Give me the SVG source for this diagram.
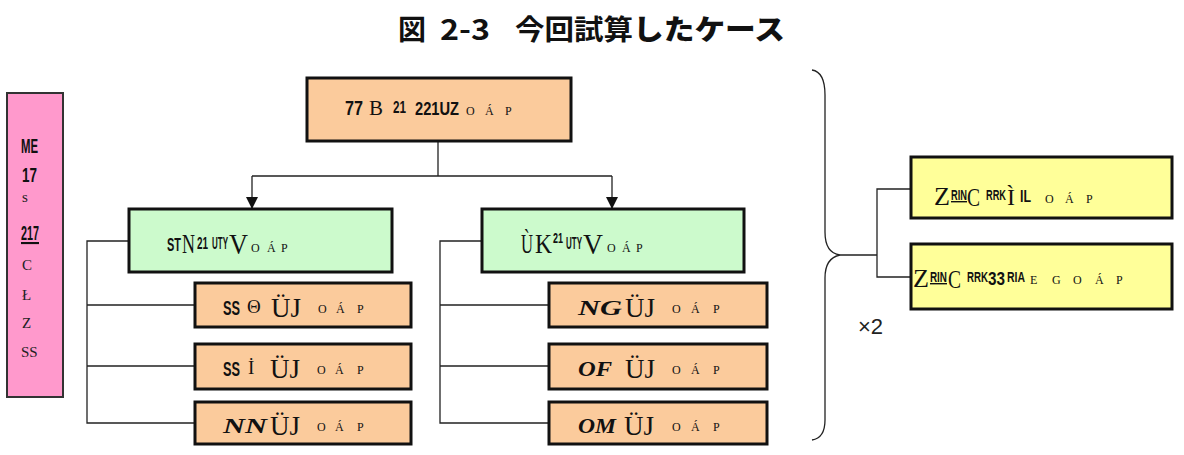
<svg xmlns="http://www.w3.org/2000/svg" width="1184" height="455" viewBox="0 0 1184 455">
<style>
.box{stroke:#111;stroke-width:3}
.peach{fill:#FBCB9C}
.green{fill:#CCFACC}
.yellow{fill:#FFFF99}
.pink{fill:#FF99CC;stroke:#333;stroke-width:2}
.ln{fill:none;stroke:#222;stroke-width:1.3}
.t{fill:#111;font-family:"Liberation Serif",serif}
.s{font-family:"Liberation Serif",serif}
.b{font-family:"Liberation Sans Narrow","Liberation Sans",sans-serif;font-weight:bold}
.bi{font-family:"Liberation Serif",serif;font-weight:bold;font-style:italic}
.sm{font-family:"Liberation Serif",serif;font-size:12px}
.pt{font-family:"Liberation Serif",serif;font-size:15px;fill:#222}
.ttl{font-family:"Noto Sans CJK JP","Noto Sans",sans-serif;font-size:28px;font-weight:bold;fill:#111}
.x2{font-family:"Liberation Sans",sans-serif;font-size:22px;fill:#222}
</style>
<defs>
<marker id="arr" markerWidth="12" markerHeight="12" refX="11" refY="6" orient="auto" markerUnits="userSpaceOnUse">
<path d="M0,0 L12,6 L0,12 Z" fill="#111"/>
</marker>
</defs>
<g id="title">
<text class="ttl" x="398" y="40"><tspan>図</tspan><tspan x="440" textLength="50" lengthAdjust="spacingAndGlyphs">2-3</tspan><tspan x="515" textLength="118" lengthAdjust="spacingAndGlyphs">今回試算</tspan><tspan x="633" font-weight="900" textLength="152" lengthAdjust="spacingAndGlyphs">したケース</tspan></text>
</g>
<g id="connectors">
<path class="ln" d="M438,141 V176 M252,176 H612"/>
<path class="ln" d="M252,176 V208" marker-end="url(#arr)"/>
<path class="ln" d="M612,176 V208" marker-end="url(#arr)"/>
<path class="ln" d="M129,241 H87 V423 H195 M87,305 H195 M87,366 H195"/>
<path class="ln" d="M482,241 H440 V423 H549 M440,305 H549 M440,366 H549"/>
<path class="ln" d="M812,70 Q825,72 825,95 V232 Q825,253 840,255 Q825,258 825,278 V420 Q825,438 812,440"/>
<path class="ln" d="M840,255 H877 M911,189 H877 V277 H911"/>
</g>
<g id="pink">
<rect class="pink" x="7" y="93" width="56" height="304"/>
<text class="t b" x="21" y="153" font-size="21" textLength="17" lengthAdjust="spacingAndGlyphs">ME</text>
<text class="t b" x="22" y="182" font-size="21" textLength="15" lengthAdjust="spacingAndGlyphs">17</text>
<text class="pt" x="22" y="202" font-size="10">s</text>
<text class="t b" x="21" y="240" font-size="21" textLength="18" lengthAdjust="spacingAndGlyphs" text-decoration="underline">217</text>
<text class="pt" x="22" y="270">C</text>
<text class="pt" x="22" y="300">Ł</text>
<text class="pt" x="22" y="328">Z</text>
<text class="pt" x="21" y="357">SS</text>
</g>
<g id="top">
<rect class="box peach" x="307" y="78" width="264" height="63"/>
<text class="t" y="115"><tspan class="b" x="345" font-size="20" textLength="18" lengthAdjust="spacingAndGlyphs">77</tspan><tspan class="s" x="369" font-size="22" textLength="14" lengthAdjust="spacingAndGlyphs">B</tspan><tspan class="b" x="393" y="113" font-size="17" textLength="13" lengthAdjust="spacingAndGlyphs">21</tspan><tspan class="b" x="415" y="115" font-size="19" textLength="44" lengthAdjust="spacingAndGlyphs">221UZ</tspan><tspan class="sm" x="466">O</tspan><tspan class="sm" x="485">Á</tspan><tspan class="sm" x="505">P</tspan></text>
</g>
<g id="green-left">
<rect class="box green" x="129" y="209" width="263" height="63"/>
<text class="t" y="252"><tspan class="b" x="167" y="251" font-size="19" textLength="14" lengthAdjust="spacingAndGlyphs">ST</tspan><tspan class="s" x="182" y="253" font-size="27" textLength="13" lengthAdjust="spacingAndGlyphs">N</tspan><tspan class="b" x="197" y="249" font-size="17" textLength="11" lengthAdjust="spacingAndGlyphs">21</tspan><tspan class="b" x="212" y="249" font-size="17" textLength="16" lengthAdjust="spacingAndGlyphs">UTY</tspan><tspan class="s" x="229" y="254" font-size="29" textLength="19" lengthAdjust="spacingAndGlyphs">V</tspan><tspan class="sm" x="251" y="252">O</tspan><tspan class="sm" x="267">Á</tspan><tspan class="sm" x="281">P</tspan></text>
</g>
<g id="green-right">
<rect class="box green" x="482" y="209" width="262" height="63"/>
<text class="t" y="253"><tspan class="s" x="521" font-size="27" textLength="12" lengthAdjust="spacingAndGlyphs">Ù</tspan><tspan class="s" x="535" font-size="27" textLength="17" lengthAdjust="spacingAndGlyphs">K</tspan><tspan class="b" x="553" y="243" font-size="15" textLength="10" lengthAdjust="spacingAndGlyphs">21</tspan><tspan class="b" x="566" y="249" font-size="17" textLength="16" lengthAdjust="spacingAndGlyphs">UTY</tspan><tspan class="s" x="583" y="254" font-size="29" textLength="20" lengthAdjust="spacingAndGlyphs">V</tspan><tspan class="sm" x="607" y="252">O</tspan><tspan class="sm" x="622">Á</tspan><tspan class="sm" x="636">P</tspan></text>
</g>
<g id="l1">
<rect class="box peach" x="195" y="283" width="216" height="44"/>
<text class="t" y="315"><tspan class="b" x="223" font-size="21" textLength="17" lengthAdjust="spacingAndGlyphs">SS</tspan><tspan class="s" x="247" y="313" font-size="19">Θ</tspan><tspan class="s" x="271" y="317" font-size="28" textLength="30" lengthAdjust="spacingAndGlyphs">ÜJ</tspan><tspan class="sm" x="318" y="313">O</tspan><tspan class="sm" x="336">Á</tspan><tspan class="sm" x="357">P</tspan></text>
</g>
<g id="l2">
<rect class="box peach" x="195" y="344" width="216" height="45"/>
<text class="t" y="376"><tspan class="b" x="223" font-size="21" textLength="17" lengthAdjust="spacingAndGlyphs">SS</tspan><tspan class="s" x="248" y="374" font-size="19">İ</tspan><tspan class="s" x="270" y="378" font-size="28" textLength="30" lengthAdjust="spacingAndGlyphs">ÜJ</tspan><tspan class="sm" x="317" y="374">O</tspan><tspan class="sm" x="335">Á</tspan><tspan class="sm" x="357">P</tspan></text>
</g>
<g id="l3">
<rect class="box peach" x="195" y="402" width="216" height="42"/>
<text class="t" y="433"><tspan class="bi" x="223" font-size="22" textLength="44" lengthAdjust="spacingAndGlyphs">NN</tspan><tspan class="s" x="270" y="435" font-size="28" textLength="30" lengthAdjust="spacingAndGlyphs">ÜJ</tspan><tspan class="sm" x="317" y="431">O</tspan><tspan class="sm" x="335">Á</tspan><tspan class="sm" x="357">P</tspan></text>
</g>
<g id="r1">
<rect class="box peach" x="549" y="283" width="218" height="44"/>
<text class="t" y="315"><tspan class="bi" x="578" font-size="22" textLength="44" lengthAdjust="spacingAndGlyphs">NG</tspan><tspan class="s" x="625" y="317" font-size="28" textLength="30" lengthAdjust="spacingAndGlyphs">ÜJ</tspan><tspan class="sm" x="672" y="313">O</tspan><tspan class="sm" x="691">Á</tspan><tspan class="sm" x="713">P</tspan></text>
</g>
<g id="r2">
<rect class="box peach" x="549" y="344" width="218" height="45"/>
<text class="t" y="376"><tspan class="bi" x="578" font-size="22" textLength="34" lengthAdjust="spacingAndGlyphs">OF</tspan><tspan class="s" x="625" y="378" font-size="28" textLength="30" lengthAdjust="spacingAndGlyphs">ÜJ</tspan><tspan class="sm" x="672" y="374">O</tspan><tspan class="sm" x="691">Á</tspan><tspan class="sm" x="713">P</tspan></text>
</g>
<g id="r3">
<rect class="box peach" x="549" y="402" width="218" height="42"/>
<text class="t" y="433"><tspan class="bi" x="578" font-size="22" textLength="38" lengthAdjust="spacingAndGlyphs">OM</tspan><tspan class="s" x="624" y="435" font-size="28" textLength="30" lengthAdjust="spacingAndGlyphs">ÜJ</tspan><tspan class="sm" x="672" y="431">O</tspan><tspan class="sm" x="691">Á</tspan><tspan class="sm" x="713">P</tspan></text>
</g>
<g id="y1">
<rect class="box yellow" x="911" y="157" width="261" height="61"/>
<text class="t" y="205"><tspan class="s" x="934" font-size="25" textLength="16" lengthAdjust="spacingAndGlyphs">Z</tspan><tspan class="b" x="951" y="200" font-size="14" textLength="16" lengthAdjust="spacingAndGlyphs" text-decoration="underline">RIN</tspan><tspan class="s" x="967" y="206" font-size="26" textLength="13" lengthAdjust="spacingAndGlyphs">C</tspan><tspan class="b" x="986" y="200" font-size="14" textLength="20" lengthAdjust="spacingAndGlyphs">RRK</tspan><tspan class="s" x="1007" y="205" font-size="24">Ì</tspan><tspan class="b" x="1020" y="202" font-size="16" textLength="11" lengthAdjust="spacingAndGlyphs">IL</tspan><tspan class="sm" x="1045" y="203">O</tspan><tspan class="sm" x="1065">Á</tspan><tspan class="sm" x="1086">P</tspan></text>
</g>
<g id="y2">
<rect class="box yellow" x="911" y="244" width="261" height="65"/>
<text class="t" y="287"><tspan class="s" x="913" font-size="25" textLength="16" lengthAdjust="spacingAndGlyphs">Z</tspan><tspan class="b" x="930" y="282" font-size="14" textLength="17" lengthAdjust="spacingAndGlyphs" text-decoration="underline">RIN</tspan><tspan class="s" x="948" y="288" font-size="26" textLength="13" lengthAdjust="spacingAndGlyphs">C</tspan><tspan class="b" x="967" y="282" font-size="14" textLength="21" lengthAdjust="spacingAndGlyphs">RRK</tspan><tspan class="b" x="988" y="285" font-size="18" textLength="17" lengthAdjust="spacingAndGlyphs">33</tspan><tspan class="b" x="1007" y="282" font-size="14" textLength="18" lengthAdjust="spacingAndGlyphs">RIA</tspan><tspan class="sm" x="1030" y="284">E</tspan><tspan class="sm" x="1052">G</tspan><tspan class="sm" x="1073">O</tspan><tspan class="sm" x="1095">Á</tspan><tspan class="sm" x="1116">P</tspan></text>
</g>
<text class="x2" x="858" y="334">×2</text>
</svg>
